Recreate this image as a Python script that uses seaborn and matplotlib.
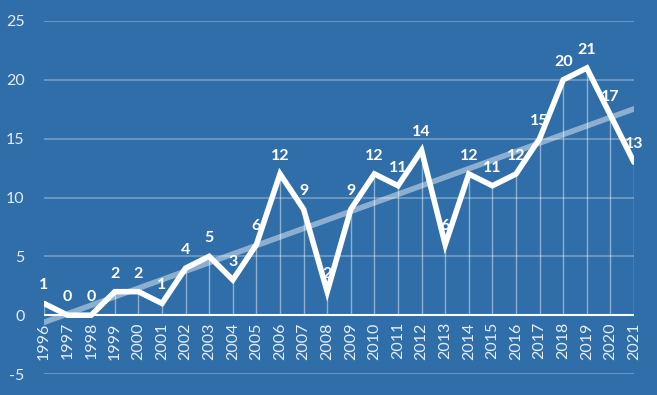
import numpy as np
import pandas as pd
import seaborn as sns
import matplotlib.pyplot as plt

years = list(range(1996, 2022))
counts = [1, 0, 0, 2, 2, 1, 4, 5, 3, 6, 12, 9, 2, 9, 12, 11, 14, 6, 12, 11, 12, 15, 20, 21, 17, 13]
y_ticks = [-5, 0, 5, 10, 15, 20, 25]

bg = "#2F6EA9"
df = pd.DataFrame({"year": years, "count": counts})

sns.set_style("white")
plt.rcParams["font.family"] = ["Lato", "DejaVu Sans"]
plt.rcParams["axes.unicode_minus"] = False

fig = plt.figure(figsize=(6.57, 3.95), dpi=100, facecolor=bg)
ax = fig.add_axes([0.067, 0.053, 0.898, 0.894])
ax.set_facecolor(bg)

# grid
for t in y_ticks:
    if t != 0:
        ax.axhline(t, color="white", alpha=0.3, lw=1.3, zorder=1)
ax.axhline(0, color="white", lw=1.5, zorder=2)

# drop lines
ax.vlines(df["year"], 0, df["count"], color="white", alpha=0.45, lw=1, zorder=2)

# trend line
sns.regplot(data=df, x="year", y="count", ax=ax, scatter=False, ci=None,
            truncate=True, line_kws=dict(color="white", alpha=0.45, lw=4, zorder=3))

sns.lineplot(data=df, x="year", y="count", ax=ax, color="white", lw=4,
             zorder=4, solid_joinstyle="miter")

for x, v in zip(years, counts):
    ax.annotate(str(v), (x, v), xytext=(0, 8), textcoords="offset points",
                ha="center", va="bottom", color="white", fontsize=11.5,
                fontweight="bold", zorder=5)
    ax.annotate(str(x), (x, 0), xytext=(0, -5), textcoords="offset points",
                ha="center", va="top", rotation=90, color="#E6EDF5",
                fontsize=11.5, zorder=5)

ax.set_xlim(1996, 2021)
ax.set_ylim(-5, 25)
ax.set_xticks([])
ax.set_yticks(y_ticks)
ax.tick_params(axis="y", length=0, labelsize=11.5, labelcolor="#E6EDF5", pad=14)
ax.set_xlabel("")
ax.set_ylabel("")
for s in ax.spines.values():
    s.set_visible(False)

fig.savefig("out.png", dpi=100, facecolor=bg)
